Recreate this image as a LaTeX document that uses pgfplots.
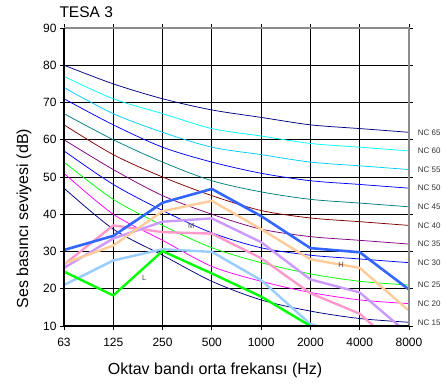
\documentclass[border=0pt]{standalone}
\usepackage{fontspec}
\setmainfont{Liberation Sans}
\usepackage{pgfplots}
\pgfplotsset{compat=1.18}
\definecolor{nc65}{RGB}{0,0,128}
\definecolor{nc60}{RGB}{0,255,255}
\definecolor{nc55}{RGB}{0,204,255}
\definecolor{nc50}{RGB}{0,0,255}
\definecolor{nc45}{RGB}{0,128,128}
\definecolor{nc40}{RGB}{128,0,0}
\definecolor{nc35}{RGB}{128,0,128}
\definecolor{nc30}{RGB}{0,0,255}
\definecolor{nc25}{RGB}{0,255,0}
\definecolor{nc20}{RGB}{255,0,255}
\definecolor{nc15}{RGB}{0,0,128}
\definecolor{mblue}{RGB}{51,102,255}
\definecolor{morange}{RGB}{255,204,153}
\definecolor{mlav}{RGB}{204,153,255}
\definecolor{mpink}{RGB}{255,153,204}
\definecolor{mlblue}{RGB}{153,204,255}
\definecolor{mgreen}{RGB}{0,255,0}
\begin{document}
\begin{tikzpicture}[x=1pt,y=1pt]
\useasboundingbox (0,0) rectangle (442,385);
\node[anchor=base west, inner sep=0, font=\fontsize{15.5}{18}\selectfont] at (59.3,367.7) {TESA 3};
\begin{axis}[
  at={(64pt,59pt)}, anchor=south west,
  scale only axis, width=345pt, height=298pt,
  xmin=0, xmax=7, ymin=10, ymax=90,
  xtick={0,...,7},
  xticklabels={63,125,250,500,1000,2000,4000,8000},
  ytick={10,20,...,90},
  grid=major,
  major grid style={black, line width=0.8pt},
  axis line style={draw=none},
  tick align=outside,
  major tick length=4pt,
  tick style={black, line width=0.8pt},
  /pgf/number format/assume math mode=true,
  ticklabel style={font=\fontsize{12}{14}\selectfont},
  xticklabel style={yshift=-5pt},
  xlabel={Oktav bandı orta frekansı (Hz)},
  ylabel={Ses basıncı seviyesi (dB)},
  xlabel style={font=\fontsize{16}{19}\selectfont, at={(axis description cs:0.438,-0.148)}, anchor=center},
  ylabel style={font=\fontsize{16}{19}\selectfont, at={(axis description cs:-0.116,0.36)}, anchor=center},
  clip mode=individual,
  every axis plot/.append style={line join=round},
]
% NC curves
\addplot[nc65, line width=0.75pt, smooth] coordinates {(0,80)(1,75)(2,71)(3,68)(4,66)(5,64)(6,63)(7,62)};
\addplot[nc60, line width=0.75pt, smooth] coordinates {(0,77)(1,71)(2,67)(3,63)(4,61)(5,59)(6,58)(7,57)};
\addplot[nc55, line width=0.75pt, smooth] coordinates {(0,74)(1,67)(2,62)(3,58)(4,56)(5,54)(6,53)(7,52)};
\addplot[nc50, line width=0.75pt, smooth] coordinates {(0,71)(1,64)(2,58)(3,54)(4,51)(5,49)(6,48)(7,47)};
\addplot[nc45, line width=0.75pt, smooth] coordinates {(0,67)(1,60)(2,54)(3,49)(4,46)(5,44)(6,43)(7,42)};
\addplot[nc40, line width=0.75pt, smooth] coordinates {(0,64)(1,56)(2,50)(3,45)(4,41)(5,39)(6,38)(7,37)};
\addplot[nc35, line width=0.75pt, smooth] coordinates {(0,60)(1,52)(2,45)(3,40)(4,36)(5,34)(6,33)(7,32)};
\addplot[nc30, line width=0.75pt, smooth] coordinates {(0,57)(1,48)(2,41)(3,35)(4,31)(5,29)(6,28)(7,27)};
\addplot[nc25, line width=0.75pt, smooth] coordinates {(0,54)(1,44)(2,37)(3,31)(4,27)(5,24)(6,22)(7,21)};
\addplot[nc20, line width=0.75pt, smooth] coordinates {(0,51)(1,40)(2,33)(3,26)(4,22)(5,19)(6,17)(7,16)};
\addplot[nc15, line width=0.75pt, smooth] coordinates {(0,47)(1,36)(2,29)(3,22)(4,17)(5,14)(6,12)(7,11)};
% measured
\addplot[mpink, line width=2.4pt] coordinates {(0,26.5)(1,37)(2,35.2)(3,34.8)(4,28.2)(5,18.8)(6,13.3)(7,1.5)};
\addplot[mlav, line width=2.4pt] coordinates {(0,25.6)(1,33.5)(2,38)(3,38.9)(4,32.5)(5,22.5)(6,19)(7,7.75)};
\addplot[mlblue, line width=2.4pt] coordinates {(0,21)(1,27.6)(2,30.6)(3,29.9)(4,22.3)(5,10.5)(6,7)};
\addplot[morange, line width=2.4pt] coordinates {(0,26.8)(1,31.6)(2,40.8)(3,43.6)(4,36)(5,27.9)(6,25.6)(7,14.1)};
\addplot[mgreen, line width=2.4pt] coordinates {(0,24.6)(1,18.2)(2,30.1)(3,24.1)(4,17.9)(5,10)};
\addplot[mblue, line width=2.6pt] coordinates {(0,30.4)(1,34.2)(2,43.1)(3,46.8)(4,39.5)(5,30.9)(6,29.8)(7,19.8)};
% labels
\node[font=\fontsize{7.5}{9}\selectfont, text=black!70, inner sep=0] at (axis cs:1.63,22.9) {L};
\node[font=\fontsize{7.5}{9}\selectfont, text=black!70, inner sep=0] at (axis cs:2.58,36.8) {M};
\node[font=\fontsize{7.5}{9}\selectfont, text=black!70, inner sep=0] at (axis cs:5.62,26.4) {H};
\foreach \v/\n in {62/65,57/60,52/55,47/50,42/45,37/40,32/35,27/30,21/25,16/20,11/15}{
  \edef\tmp{\noexpand\node[anchor=west, inner sep=0, xshift=8.6pt, font=\noexpand\fontsize{8}{9}\noexpand\selectfont, text=black!80] at (axis cs:7,\v) {NC \n};}
  \tmp
}
% frame
\draw[black!45, line width=1.6pt] (rel axis cs:0,1) -- (rel axis cs:1,1) -- (rel axis cs:1,0);
\draw[black, line width=1.2pt] (rel axis cs:0,1) -- (rel axis cs:0,0) -- (rel axis cs:1,0);
\end{axis}
\end{tikzpicture}
\end{document}
